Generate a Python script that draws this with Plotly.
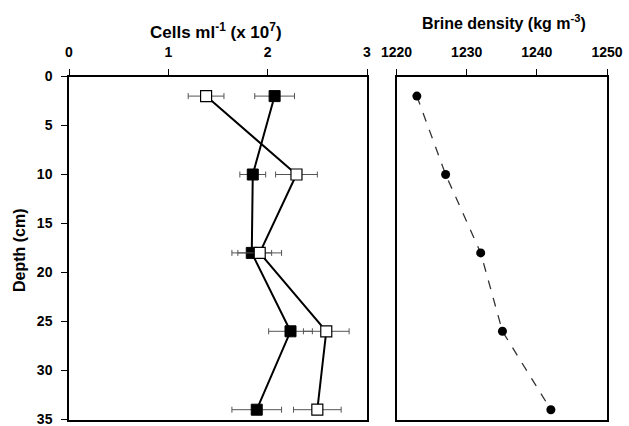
import plotly.graph_objects as go

depth = [2, 10, 18, 26, 34]
cells_filled = [2.07, 1.85, 1.84, 2.23, 1.89]
cells_filled_err = [0.20, 0.13, 0.20, 0.22, 0.25]
cells_open = [1.38, 2.29, 1.92, 2.59, 2.50]
cells_open_err = [0.18, 0.21, 0.22, 0.23, 0.24]
brine_density = [1222.9, 1227.0, 1232.0, 1235.1, 1242.0]

x_ticks_cells = [0, 1, 2, 3]
x_ticks_brine = [1220, 1230, 1240, 1250]
y_ticks = [0, 5, 10, 15, 20, 25, 30, 35]

FONT = "Liberation Sans, Arial, sans-serif"
W, H = 629, 426

fig = go.Figure()

err_style = dict(type="data", thickness=1, width=3, color="#555555")

fig.add_trace(go.Scatter(
    x=cells_filled, y=depth, mode="lines+markers",
    line=dict(color="black", width=2),
    marker=dict(symbol="square", size=11, color="black", line=dict(color="black", width=1)),
    error_x=dict(array=cells_filled_err, **err_style),
    xaxis="x", yaxis="y", showlegend=False,
))
fig.add_trace(go.Scatter(
    x=cells_open, y=depth, mode="lines+markers",
    line=dict(color="black", width=2),
    marker=dict(symbol="square", size=11, color="white", line=dict(color="black", width=1.2)),
    error_x=dict(array=cells_open_err, **err_style),
    xaxis="x", yaxis="y", showlegend=False,
))
fig.add_trace(go.Scatter(
    x=brine_density, y=depth, mode="lines+markers",
    line=dict(color="#333333", width=1.3, dash="dash"),
    marker=dict(symbol="circle", size=9, color="black"),
    xaxis="x2", yaxis="y2", showlegend=False,
))

def px_x(p):
    return p / W

def px_y(p):
    return 1 - p / H

tickfont = dict(family=FONT, size=14, color="black", weight="bold")
axis_common = dict(
    showline=True, linecolor="black", linewidth=1.5, mirror=True,
    ticks="outside", ticklen=6, tickwidth=1.2, tickcolor="black",
    showgrid=False, zeroline=False, tickfont=tickfont, automargin=False,
    ticklabeloverflow="allow",
)

TOP, BOT = 76.5, 419.5

fig.update_layout(
    width=W, height=H,
    margin=dict(l=0, r=0, t=0, b=0, pad=0),
    paper_bgcolor="white", plot_bgcolor="white",
    font=dict(family=FONT, color="black"),
    xaxis=dict(domain=[px_x(69), px_x(367)], range=[0, 3], side="top",
               tickvals=x_ticks_cells, ticktext=[str(v) for v in x_ticks_cells],
               anchor="y", ticklabelstandoff=6, **axis_common),
    yaxis=dict(domain=[px_y(BOT), px_y(TOP)], range=[35, 0],
               tickvals=y_ticks, ticktext=[str(v) for v in y_ticks],
               anchor="x", ticklabelstandoff=6, **axis_common),
    xaxis2=dict(domain=[px_x(396.5), px_x(607)], range=[1220, 1250], side="top",
                tickvals=x_ticks_brine, ticktext=[str(v) for v in x_ticks_brine],
                anchor="y2", ticklabelstandoff=6, **axis_common),
    yaxis2=dict(domain=[px_y(BOT), px_y(TOP)], range=[35, 0], anchor="x2",
                showline=True, linecolor="black", linewidth=1.5, mirror=True,
                ticks="", showticklabels=False, showgrid=False, zeroline=False,
                automargin=False),
)

fig.add_annotation(text="<b>Cells ml<sup>-1</sup> (x 10<sup>7</sup>)</b>",
                   x=px_x(216), y=px_y(31), xref="paper", yref="paper",
                   showarrow=False, font=dict(family=FONT, size=17, color="black"),
                   xanchor="center", yanchor="middle")
fig.add_annotation(text="<b>Brine density (kg m<sup>-3</sup>)</b>",
                   x=px_x(504), y=px_y(22), xref="paper", yref="paper",
                   showarrow=False, font=dict(family=FONT, size=16, color="black"),
                   xanchor="center", yanchor="middle")
fig.add_annotation(text="<b>Depth (cm)</b>",
                   x=px_x(19), y=px_y(250), xref="paper", yref="paper",
                   showarrow=False, font=dict(family=FONT, size=16, color="black"),
                   textangle=-90, xanchor="center", yanchor="middle")

fig.write_html(
    "out.html",
    config={"displayModeBar": False},
    post_script="document.body.style.margin='0';document.body.style.overflow='hidden';",
)
